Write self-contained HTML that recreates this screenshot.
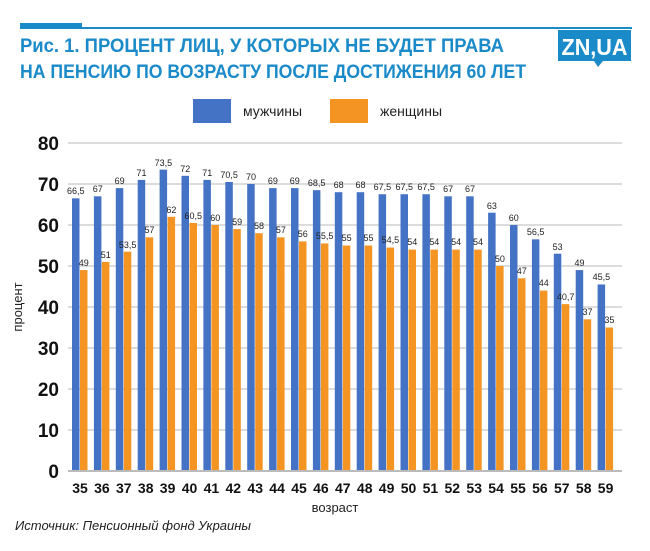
<!DOCTYPE html>
<html><head><meta charset="utf-8"><style>
body{margin:0;background:#fff;}
svg{display:block;font-family:"Liberation Sans","DejaVu Sans",sans-serif;}
</style></head><body>
<svg width="650" height="551" viewBox="0 0 650 551" xmlns="http://www.w3.org/2000/svg">
<rect x="20" y="23" width="62" height="5" fill="#1b8ac8"/>
<rect x="20" y="27" width="612" height="2" fill="#1b8ac8"/>
<g font-weight="bold" fill="#1b8ac8" font-size="19">
<text x="20" y="52" textLength="484" lengthAdjust="spacingAndGlyphs">Рис. 1. ПРОЦЕНТ ЛИЦ, У КОТОРЫХ НЕ БУДЕТ ПРАВА</text>
<text x="20" y="78" textLength="506" lengthAdjust="spacingAndGlyphs">НА ПЕНСИЮ ПО ВОЗРАСТУ ПОСЛЕ ДОСТИЖЕНИЯ 60 ЛЕТ</text>
</g>
<rect x="558" y="30" width="73" height="31" fill="#1b8ac8"/>
<polygon points="594,61 603,61 598,67" fill="#1b8ac8"/>
<text x="594.5" y="55" text-anchor="middle" font-weight="bold" font-size="23" fill="#fff" textLength="66" lengthAdjust="spacingAndGlyphs">ZN,UA</text>
<rect x="193" y="99" width="38" height="24" fill="#4472c4"/>
<text x="243" y="116" font-size="14" fill="#222">мужчины</text>
<rect x="330" y="99" width="38" height="24" fill="#f39423"/>
<text x="380" y="116" font-size="14" fill="#222">женщины</text>
<g stroke="#c8c8c8" stroke-width="1.2">
<line x1="68" y1="143" x2="622" y2="143"/><line x1="68" y1="184" x2="622" y2="184"/>
<line x1="68" y1="225" x2="622" y2="225"/><line x1="68" y1="266" x2="622" y2="266"/>
<line x1="68" y1="307" x2="622" y2="307"/><line x1="68" y1="348" x2="622" y2="348"/>
<line x1="68" y1="389" x2="622" y2="389"/><line x1="68" y1="430" x2="622" y2="430"/>
</g>
<g font-weight="bold" font-size="19" fill="#111" text-anchor="end">
<text x="59" y="150">80</text><text x="59" y="191">70</text><text x="59" y="232">60</text>
<text x="59" y="273">50</text><text x="59" y="314">40</text><text x="59" y="355">30</text>
<text x="59" y="396">20</text><text x="59" y="437">10</text><text x="59" y="478">0</text>
</g>
<g fill="#4472c4">
<rect x="72" y="198.35" width="7.5" height="272.65"/>
<rect x="93.9" y="196.3" width="7.5" height="274.7"/>
<rect x="115.8" y="188.1" width="7.5" height="282.9"/>
<rect x="137.7" y="179.9" width="7.5" height="291.1"/>
<rect x="159.6" y="169.65" width="7.5" height="301.35"/>
<rect x="181.5" y="175.8" width="7.5" height="295.2"/>
<rect x="203.4" y="179.9" width="7.5" height="291.1"/>
<rect x="225.3" y="181.95" width="7.5" height="289.05"/>
<rect x="247.2" y="184" width="7.5" height="287"/>
<rect x="269.1" y="188.1" width="7.5" height="282.9"/>
<rect x="291" y="188.1" width="7.5" height="282.9"/>
<rect x="312.9" y="190.15" width="7.5" height="280.85"/>
<rect x="334.8" y="192.2" width="7.5" height="278.8"/>
<rect x="356.7" y="192.2" width="7.5" height="278.8"/>
<rect x="378.6" y="194.25" width="7.5" height="276.75"/>
<rect x="400.5" y="194.25" width="7.5" height="276.75"/>
<rect x="422.4" y="194.25" width="7.5" height="276.75"/>
<rect x="444.3" y="196.3" width="7.5" height="274.7"/>
<rect x="466.2" y="196.3" width="7.5" height="274.7"/>
<rect x="488.1" y="212.7" width="7.5" height="258.3"/>
<rect x="510" y="225" width="7.5" height="246"/>
<rect x="531.9" y="239.35" width="7.5" height="231.65"/>
<rect x="553.8" y="253.7" width="7.5" height="217.3"/>
<rect x="575.7" y="270.1" width="7.5" height="200.9"/>
<rect x="597.6" y="284.45" width="7.5" height="186.55"/>
</g>
<g fill="#f39423">
<rect x="80" y="270.1" width="7.5" height="200.9"/>
<rect x="101.9" y="261.9" width="7.5" height="209.1"/>
<rect x="123.8" y="251.65" width="7.5" height="219.35"/>
<rect x="145.7" y="237.3" width="7.5" height="233.7"/>
<rect x="167.6" y="216.8" width="7.5" height="254.2"/>
<rect x="189.5" y="222.95" width="7.5" height="248.05"/>
<rect x="211.4" y="225" width="7.5" height="246"/>
<rect x="233.3" y="229.1" width="7.5" height="241.9"/>
<rect x="255.2" y="233.2" width="7.5" height="237.8"/>
<rect x="277.1" y="237.3" width="7.5" height="233.7"/>
<rect x="299" y="241.4" width="7.5" height="229.6"/>
<rect x="320.9" y="243.45" width="7.5" height="227.55"/>
<rect x="342.8" y="245.5" width="7.5" height="225.5"/>
<rect x="364.7" y="245.5" width="7.5" height="225.5"/>
<rect x="386.6" y="247.55" width="7.5" height="223.45"/>
<rect x="408.5" y="249.6" width="7.5" height="221.4"/>
<rect x="430.4" y="249.6" width="7.5" height="221.4"/>
<rect x="452.3" y="249.6" width="7.5" height="221.4"/>
<rect x="474.2" y="249.6" width="7.5" height="221.4"/>
<rect x="496.1" y="266" width="7.5" height="205"/>
<rect x="518" y="278.3" width="7.5" height="192.7"/>
<rect x="539.9" y="290.6" width="7.5" height="180.4"/>
<rect x="561.8" y="304.13" width="7.5" height="166.87"/>
<rect x="583.7" y="319.3" width="7.5" height="151.7"/>
<rect x="605.6" y="327.5" width="7.5" height="143.5"/>
</g>
<line x1="68" y1="471" x2="622" y2="471" stroke="#bbb" stroke-width="2"/>
<g font-size="9" fill="#222" text-anchor="middle">
<text x="75.8" y="194">66,5</text><text x="97.7" y="192">67</text><text x="119.6" y="184">69</text>
<text x="141.5" y="176">71</text><text x="163.4" y="166">73,5</text><text x="185.3" y="172">72</text>
<text x="207.2" y="176">71</text><text x="229.1" y="178">70,5</text><text x="251" y="180">70</text>
<text x="272.9" y="184">69</text><text x="294.8" y="184">69</text><text x="316.7" y="186">68,5</text>
<text x="338.6" y="188">68</text><text x="360.5" y="188">68</text><text x="382.4" y="190">67,5</text>
<text x="404.3" y="190">67,5</text><text x="426.2" y="190">67,5</text><text x="448.1" y="192">67</text>
<text x="470" y="192">67</text><text x="491.9" y="209">63</text><text x="513.8" y="221">60</text>
<text x="535.7" y="235">56,5</text><text x="557.6" y="250">53</text><text x="579.5" y="266">49</text>
<text x="601.4" y="280">45,5</text>
<text x="83.8" y="266">49</text><text x="105.7" y="258">51</text><text x="127.6" y="248">53,5</text>
<text x="149.5" y="233">57</text><text x="171.4" y="213">62</text><text x="193.3" y="219">60,5</text>
<text x="215.2" y="221">60</text><text x="237.1" y="225">59</text><text x="259" y="229">58</text>
<text x="280.9" y="233">57</text><text x="302.8" y="237">56</text><text x="324.7" y="239">55,5</text>
<text x="346.6" y="241">55</text><text x="368.5" y="241">55</text><text x="390.4" y="243">54,5</text>
<text x="412.3" y="245">54</text><text x="434.2" y="245">54</text><text x="456.1" y="245">54</text>
<text x="478" y="245">54</text><text x="499.9" y="262">50</text><text x="521.8" y="274">47</text>
<text x="543.7" y="286">44</text><text x="565.6" y="300">40,7</text><text x="587.5" y="315">37</text>
<text x="609.4" y="323">35</text>
</g>
<g font-weight="bold" font-size="14" fill="#111" text-anchor="middle">
<text x="80" y="493">35</text><text x="101.9" y="493">36</text><text x="123.8" y="493">37</text>
<text x="145.7" y="493">38</text><text x="167.6" y="493">39</text><text x="189.5" y="493">40</text>
<text x="211.4" y="493">41</text><text x="233.3" y="493">42</text><text x="255.2" y="493">43</text>
<text x="277.1" y="493">44</text><text x="299" y="493">45</text><text x="320.9" y="493">46</text>
<text x="342.8" y="493">47</text><text x="364.7" y="493">48</text><text x="386.6" y="493">49</text>
<text x="408.5" y="493">50</text><text x="430.4" y="493">51</text><text x="452.3" y="493">52</text>
<text x="474.2" y="493">53</text><text x="496.1" y="493">54</text><text x="518" y="493">55</text>
<text x="539.9" y="493">56</text><text x="561.8" y="493">57</text><text x="583.7" y="493">58</text>
<text x="605.6" y="493">59</text>
</g>
<text x="335" y="512" font-size="13" fill="#222" text-anchor="middle">возраст</text>
<text transform="translate(22,307) rotate(-90)" font-size="13" fill="#222" text-anchor="middle">процент</text>
<text x="15" y="530" font-size="13" font-style="italic" fill="#222">Источник: Пенсионный фонд Украины</text>
</svg>
</body></html>
